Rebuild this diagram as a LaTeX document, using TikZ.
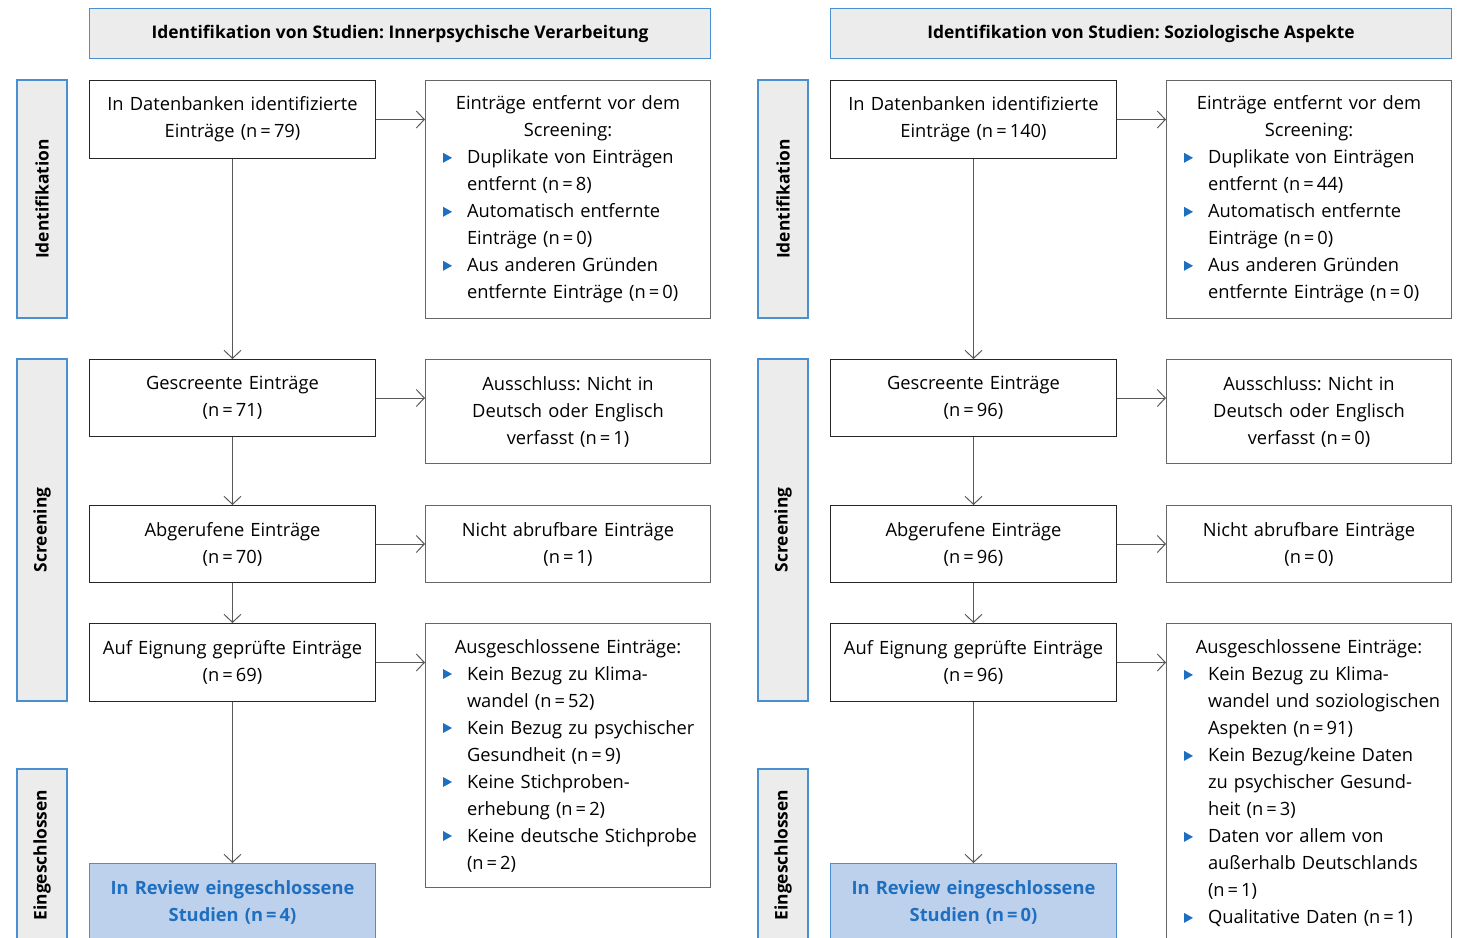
\documentclass[tikz,border=0pt]{standalone}
\usepackage{fontspec}
\setmainfont{Open Sans}
\usetikzlibrary{arrows.meta,positioning}
\frenchspacing
\hyphenpenalty=10000

\definecolor{headgray}{HTML}{ECECEC}
\definecolor{frameblue}{HTML}{4A8FD0}
\definecolor{inclfill}{HTML}{BDD1EC}
\definecolor{incltext}{HTML}{1F6FC0}
\definecolor{bulletblue}{HTML}{1E6FC0}

% blue triangle in front of each list entry
\newcommand\bul{\tikz[x=1pt,y=1pt,baseline=0pt]\fill[bulletblue] (0,1) -- (0,11) -- (9,6) -- cycle;}
\newcommand\entry{\par\leftskip=6pt\hangindent=24pt\hangafter=1\noindent\makebox[24pt][l]{\bul}}
\newcommand\boxhead[1]{{\centering #1\par}}

\tikzset{
  base/.style={rectangle, inner sep=0pt, anchor=north west, align=center,
    font=\fontsize{18.3}{27}\selectfont},
  headbox/.style={base, draw=frameblue, fill=headgray, line width=1.2pt,
    minimum width=621pt, minimum height=50pt, font=\bfseries\fontsize{17.4}{22}\selectfont},
  phasebox/.style={base, anchor=center, rotate=90, draw=frameblue, fill=headgray,
    line width=1.2pt, minimum height=50pt, font=\bfseries\fontsize{17.4}{22}\selectfont},
  stepbox/.style={base, draw=black!85, line width=1pt, minimum width=286pt,
    minimum height=78pt, text width=272pt},
  sidebox/.style={base, draw=black!60, line width=1pt, minimum width=285pt,
    text width=262pt, align=left},
  inclbox/.style={stepbox, draw=frameblue, fill=inclfill, text=incltext,
    font=\bfseries\fontsize{18.3}{27}\selectfont},
  flow/.style={draw=black!65, line width=1pt, -{Straight Barb[length=8pt,width=17pt]}}
}

\begin{document}
\begin{tikzpicture}[x=1pt,y=-1pt]
  \useasboundingbox (0,0) rectangle (1459,937);
  \clip (0,0) rectangle (1459,937);

  % Innerpsychische Verarbeitung
  \node[headbox] (ihead) at (89,8) {Identifikation von Studien: Innerpsychische Verarbeitung};
  \node[phasebox, minimum width=238pt] (iphid) at (42,199) {Identifikation};
  \node[phasebox, minimum width=342pt] (iphscr) at (42,530) {Screening};
  \node[phasebox, minimum width=172pt] (iphin) at (42,855) {Eingeschlossen};

  \node[stepbox] (iident) at (89,80) {In Datenbanken identifizierte\\Einträge (n\,=\,79)};
  \node[stepbox, minimum height=77pt] (iscr) at (89,359) {Gescreente Einträge\\(n\,=\,71)};
  \node[stepbox, minimum height=77pt] (iretr) at (89,505) {Abgerufene Einträge\\(n\,=\,70)};
  \node[stepbox] (ielig) at (89,623) {Auf Eignung geprüfte Einträge\\(n\,=\,69)};
  \node[inclbox] (iincl) at (89,863) {In Review eingeschlossene\\Studien (n\,=\,4)};

  \node[sidebox, minimum height=238pt] (irem) at (425,80) {%
    \boxhead{Einträge entfernt vor dem\\Screening:}
    \entry Duplikate von Einträgen\newline entfernt (n\,=\,8)
    \entry Automatisch entfernte\newline Einträge (n\,=\,0)
    \entry Aus anderen Gründen\newline entfernte Einträge (n\,=\,0)\par};
  \node[sidebox, minimum height=104pt, align=center] (ilang) at (425,359) {Ausschluss: Nicht in\\Deutsch oder Englisch\\verfasst (n\,=\,1)};
  \node[sidebox, minimum height=77pt, align=center] (inotretr) at (425,505) {Nicht abrufbare Einträge\\(n\,=\,1)};
  \node[sidebox, minimum height=264pt] (iexcl) at (425,623) {%
    \boxhead{Ausgeschlossene Einträge:}
    \entry Kein Bezug zu Klima-\newline wandel (n\,=\,52)
    \entry Kein Bezug zu psychischer\newline Gesundheit (n\,=\,9)
    \entry Keine Stichproben-\newline erhebung (n\,=\,2)
    \entry Keine deutsche Stichprobe\newline (n\,=\,2)\par};

  \draw[flow] (iident) -- (iscr);
  \draw[flow] (iscr) -- (iretr);
  \draw[flow] (iretr) -- (ielig);
  \draw[flow] (ielig) -- (iincl);
  \draw[flow] (iident.east) -- (iident.east -| irem.west);
  \draw[flow] (iscr.east) -- (iscr.east -| ilang.west);
  \draw[flow] (iretr.east) -- (iretr.east -| inotretr.west);
  \draw[flow] (ielig.east) -- (ielig.east -| iexcl.west);

  % Soziologische Aspekte
  \begin{scope}[xshift=741pt]
    \node[headbox] (shead) at (89,8) {Identifikation von Studien: Soziologische Aspekte};
    \node[phasebox, minimum width=238pt] (sphid) at (42,199) {Identifikation};
    \node[phasebox, minimum width=342pt] (sphscr) at (42,530) {Screening};
    \node[phasebox, minimum width=172pt] (sphin) at (42,855) {Eingeschlossen};

    \node[stepbox] (sident) at (89,80) {In Datenbanken identifizierte\\Einträge (n\,=\,140)};
    \node[stepbox, minimum height=77pt] (sscr) at (89,359) {Gescreente Einträge\\(n\,=\,96)};
    \node[stepbox, minimum height=77pt] (sretr) at (89,505) {Abgerufene Einträge\\(n\,=\,96)};
    \node[stepbox] (selig) at (89,623) {Auf Eignung geprüfte Einträge\\(n\,=\,96)};
    \node[inclbox] (sincl) at (89,863) {In Review eingeschlossene\\Studien (n\,=\,0)};

    \node[sidebox, minimum height=238pt] (srem) at (425,80) {%
      \boxhead{Einträge entfernt vor dem\\Screening:}
      \entry Duplikate von Einträgen\newline entfernt (n\,=\,44)
      \entry Automatisch entfernte\newline Einträge (n\,=\,0)
      \entry Aus anderen Gründen\newline entfernte Einträge (n\,=\,0)\par};
    \node[sidebox, minimum height=104pt, align=center] (slang) at (425,359) {Ausschluss: Nicht in\\Deutsch oder Englisch\\verfasst (n\,=\,0)};
    \node[sidebox, minimum height=77pt, align=center] (snotretr) at (425,505) {Nicht abrufbare Einträge\\(n\,=\,0)};
    \node[sidebox, minimum height=320pt] (sexcl) at (425,623) {%
      \boxhead{Ausgeschlossene Einträge:}
      \entry Kein Bezug zu Klima-\newline wandel und soziologischen\newline Aspekten (n\,=\,91)
      \entry Kein Bezug/keine Daten\newline zu psychischer Gesund-\newline heit (n\,=\,3)
      \entry Daten vor allem von\newline außerhalb Deutschlands\newline (n\,=\,1)
      \entry Qualitative Daten (n\,=\,1)\par};

    \draw[flow] (sident) -- (sscr);
    \draw[flow] (sscr) -- (sretr);
    \draw[flow] (sretr) -- (selig);
    \draw[flow] (selig) -- (sincl);
    \draw[flow] (sident.east) -- (sident.east -| srem.west);
    \draw[flow] (sscr.east) -- (sscr.east -| slang.west);
    \draw[flow] (sretr.east) -- (sretr.east -| snotretr.west);
    \draw[flow] (selig.east) -- (selig.east -| sexcl.west);
  \end{scope}
\end{tikzpicture}
\end{document}
